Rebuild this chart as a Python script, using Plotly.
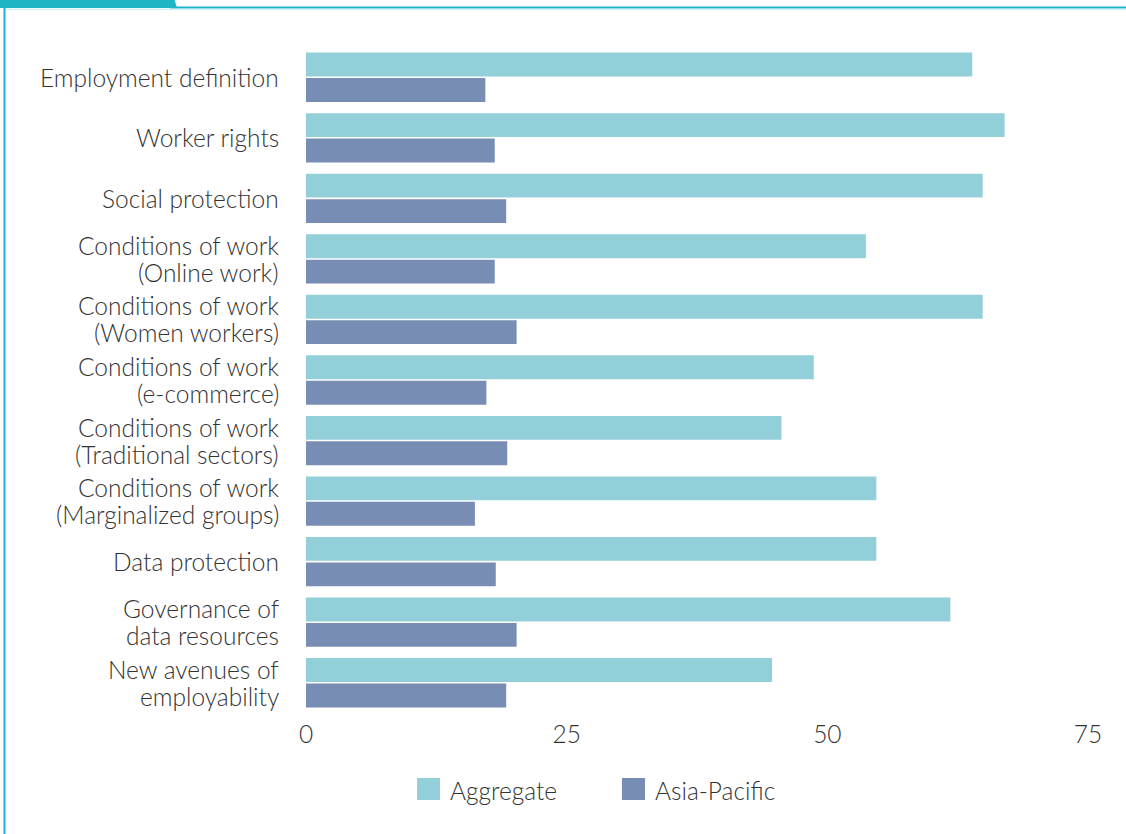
import plotly.graph_objects as go

categories = [
    "Employment definition",
    "Worker rights",
    "Social protection",
    "Conditions of work<br>(Online work)",
    "Conditions of work<br>(Women workers)",
    "Conditions of work<br>(e-commerce)",
    "Conditions of work<br>(Traditional sectors)",
    "Conditions of work<br>(Marginalized groups)",
    "Data protection",
    "Governance of<br>data resources",
    "New avenues of<br>employability",
]
aggregate = [63.9, 67.0, 64.9, 53.7, 64.9, 48.7, 45.6, 54.7, 54.7, 61.8, 44.7]
asia_pacific = [17.2, 18.1, 19.2, 18.1, 20.2, 17.3, 19.3, 16.2, 18.2, 20.2, 19.2]
x_ticks = [0, 25, 50, 75]

C_AGG = "#93cfd9"
C_AP = "#788db3"
TEAL = "#1fb5c5"
FONT = "Lato"
TXT = "#333333"
FS = 24.5

fig = go.Figure()
fig.add_trace(go.Bar(y=categories, x=aggregate, orientation="h", name="Aggregate",
                     marker=dict(color=C_AGG, line=dict(width=0))))
fig.add_trace(go.Bar(y=categories, x=asia_pacific, orientation="h", name="Asia-Pacific",
                     marker=dict(color=C_AP, line=dict(width=0))))

W, H = 1126, 834
L, R, T, B = 306, 38, 47, 121
pw, ph = W - L - R, H - T - B

def px(x):
    return (x - L) / pw

def py(y):
    return (H - B - y) / ph

shapes = [
    dict(type="path", xref="paper", yref="paper",
         path=f"M {px(0)},{py(-2)} L {px(174)},{py(-2)} L {px(177)},{py(8)} L {px(0)},{py(8)} Z",
         fillcolor=TEAL, line=dict(width=0), layer="above"),
    dict(type="line", xref="paper", yref="paper", x0=px(170), x1=px(1126), y0=py(7.5), y1=py(7.5),
         line=dict(color=TEAL, width=2)),
    dict(type="line", xref="paper", yref="paper", x0=px(4), x1=px(1126), y0=py(9.3), y1=py(9.3),
         line=dict(color="#bff0f5", width=1)),
    dict(type="line", xref="paper", yref="paper", x0=px(4.5), x1=px(4.5), y0=py(7), y1=py(840),
         line=dict(color=TEAL, width=2)),
    dict(type="rect", xref="paper", yref="paper", x0=px(417), x1=px(440), y0=py(778), y1=py(800),
         fillcolor=C_AGG, line=dict(width=0)),
    dict(type="rect", xref="paper", yref="paper", x0=px(622), x1=px(645), y0=py(778), y1=py(800),
         fillcolor=C_AP, line=dict(width=0)),
]

lab_font = dict(family=FONT, size=FS, color=TXT, weight=300)
annotations = [
    dict(xref="paper", yref="paper", x=px(448), y=py(790), text="Aggregate", showarrow=False,
         xanchor="left", yanchor="middle", font=lab_font),
    dict(xref="paper", yref="paper", x=px(653), y=py(790), text="Asia-Pacific", showarrow=False,
         xanchor="left", yanchor="middle", font=lab_font),
]
for cat in categories:
    lines = cat.split("<br>")
    n = len(lines)
    for i, line in enumerate(lines):
        shift = (n - 1) / 2 * 27 - i * 27
        annotations.append(dict(xref="paper", yref="y", x=px(281), y=cat, text=line,
                                showarrow=False, xanchor="right", yanchor="middle",
                                yshift=shift, font=lab_font))

fig.update_layout(
    width=W, height=H,
    margin=dict(l=L, r=R, t=T, b=B, pad=0),
    paper_bgcolor="white", plot_bgcolor="white",
    barmode="group", bargap=0.16, bargroupgap=0.06,
    showlegend=False,
    shapes=shapes, annotations=annotations,
    font=dict(family=FONT, color=TXT, size=FS, weight=300),
    xaxis=dict(range=[0, 75], tickvals=x_ticks, showgrid=False, zeroline=False, showline=False,
               ticks="", tickfont=lab_font, ticklabelstandoff=4, fixedrange=True),
    yaxis=dict(categoryorder="array", categoryarray=categories, autorange="reversed",
               showgrid=False, zeroline=False, showline=False, ticks="",
               showticklabels=False, fixedrange=True),
)

fig.write_html("out.html")
